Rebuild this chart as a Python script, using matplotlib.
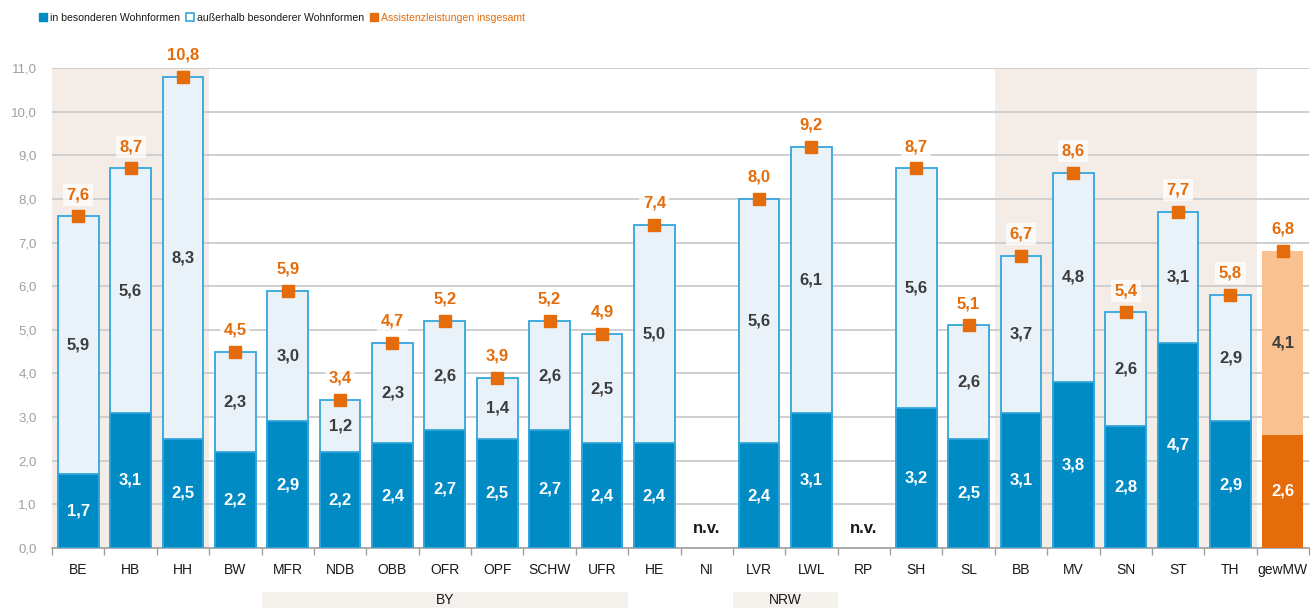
import numpy as np
import matplotlib.pyplot as plt
from matplotlib.patches import Rectangle
from matplotlib.lines import Line2D
from matplotlib.transforms import blended_transform_factory

plt.rcParams["font.family"] = ["Liberation Sans", "DejaVu Sans"]

# ---------------------------------------------------------
# data
# ---------------------------------------------------------
categories = ["BE", "HB", "HH", "BW", "MFR", "NDB", "OBB", "OFR", "OPF", "SCHW",
              "UFR", "HE", "NI", "LVR", "LWL", "RP", "SH", "SL", "BB", "MV",
              "SN", "ST", "TH", "gewMW"]
in_wohnformen = [1.7, 3.1, 2.5, 2.2, 2.9, 2.2, 2.4, 2.7, 2.5, 2.7,
                 2.4, 2.4, np.nan, 2.4, 3.1, np.nan, 3.2, 2.5, 3.1, 3.8,
                 2.8, 4.7, 2.9, 2.6]
ausserhalb = [5.9, 5.6, 8.3, 2.3, 3.0, 1.2, 2.3, 2.6, 1.4, 2.6,
              2.5, 5.0, np.nan, 5.6, 6.1, np.nan, 5.6, 2.6, 3.7, 4.8,
              2.6, 3.1, 2.9, 4.1]
insgesamt = [7.6, 8.7, 10.8, 4.5, 5.9, 3.4, 4.7, 5.2, 3.9, 5.2,
             4.9, 7.4, np.nan, 8.0, 9.2, np.nan, 8.7, 5.1, 6.7, 8.6,
             5.4, 7.7, 5.8, 6.8]
groups = [("BY", "MFR", "UFR"), ("NRW", "LVR", "LWL")]
shaded = [("BE", "HH"), ("BB", "TH")]

# ---------------------------------------------------------
# colours
# ---------------------------------------------------------
BLUE = "#008bc5"
LIGHT = "#e9f2f9"
EDGE = "#34a6dc"
ORANGE = "#e46c0a"
LIGHT_ORANGE = "#f9c190"
SHADE = "#f3ece7"
GRID = "#cfcfcf"
TEXT = "#1a1a1a"


def fmt(v):
    return f"{v:.1f}".replace(".", ",")


fig = plt.figure(figsize=(13.13, 6.08), dpi=100)
ax = fig.add_axes([52 / 1313, 60 / 608, 1257 / 1313, 480 / 608])

x = np.arange(len(categories))
idx = {c: i for i, c in enumerate(categories)}
ins = np.array(in_wohnformen)
out = np.array(ausserhalb)
tot = np.array(insgesamt)
mean_bar = categories.index("gewMW")
width = 0.78

# background shading of regions
for first, last in shaded:
    ax.add_patch(Rectangle((idx[first] - 0.5, 0), idx[last] - idx[first] + 1, 11,
                           facecolor=SHADE, edgecolor="none", zorder=0.2))

valid = ~np.isnan(tot)
states = valid & (x != mean_bar)

# light bar (whole total), dark bar (in besonderen Wohnformen) on top
ax.bar(x[states], tot[states], width, color=LIGHT, edgecolor=EDGE, linewidth=1.3, zorder=2)
ax.bar(x[states], ins[states], width, color=BLUE, edgecolor=EDGE, linewidth=1.3, zorder=3)
ax.bar(x[mean_bar], tot[mean_bar], width, color=LIGHT_ORANGE, edgecolor="none", zorder=2)
ax.bar(x[mean_bar], ins[mean_bar], width, color=ORANGE, edgecolor="none", zorder=3)

# total markers
ax.plot(x[valid], tot[valid], "s", color=ORANGE, markersize=8, zorder=5, clip_on=False)

for i in x[valid]:
    ax.text(i, ins[i] / 2, fmt(ins[i]), ha="center", va="center", color="white",
            fontsize=12, fontweight="bold", zorder=6)
    ax.text(i, (ins[i] + tot[i]) / 2, fmt(out[i]), ha="center", va="center",
            color="#3c3c3c", fontsize=12, fontweight="bold", zorder=6)
    ax.text(i, tot[i] + 0.5, fmt(tot[i]), ha="center", va="center", color=ORANGE,
            fontsize=12, fontweight="bold", zorder=6, clip_on=False,
            bbox=dict(facecolor="white", alpha=0.75, edgecolor="none", pad=2.5))

for i in x[~valid]:
    ax.text(i, 0.45, "n.v.", ha="center", va="center", color=TEXT,
            fontsize=12, fontweight="bold", zorder=6)

# axes styling
yticks = np.arange(0, 11.1, 1)
ax.set_xlim(-0.5, len(categories) - 0.5)
ax.set_ylim(0, 11)
ax.set_yticks(yticks)
ax.set_yticklabels([fmt(v) for v in yticks])
ax.yaxis.grid(True, color=GRID, linewidth=1.4)
ax.set_axisbelow(True)
ax.tick_params(axis="y", length=0, pad=11, labelsize=9.5, labelcolor="#a0a0a0")
ax.set_xticks(x)
ax.set_xticklabels(categories)
ax.set_xticks(np.arange(-0.5, len(categories), 1), minor=True)
ax.tick_params(axis="x", which="major", length=0, pad=11, labelsize=10, labelcolor=TEXT)
ax.tick_params(axis="x", which="minor", length=5, color="#a0a0a0", width=1)
for side in ["left", "right", "top"]:
    ax.spines[side].set_visible(False)
ax.spines["bottom"].set_color("#a0a0a0")
ax.spines["bottom"].set_linewidth(1.2)

# group labels below the axis
trans = blended_transform_factory(ax.transData, ax.transAxes)
for name, first, last in groups:
    ax.add_patch(Rectangle((idx[first] - 0.5, -0.125), idx[last] - idx[first] + 1, 0.033,
                           transform=trans, facecolor="#f5f1ed", edgecolor="none",
                           clip_on=False, zorder=1))
    ax.text((idx[first] + idx[last]) / 2, -0.108, name, transform=trans,
            ha="center", va="center", fontsize=10, color=TEXT)

# legend
handles = [
    Line2D([], [], marker="s", linestyle="none", markersize=6, color=BLUE),
    Line2D([], [], marker="s", linestyle="none", markersize=5.5,
           markerfacecolor="white", markeredgecolor=EDGE, markeredgewidth=1.2),
    Line2D([], [], marker="s", linestyle="none", markersize=6, color=ORANGE),
]
labels = ["in besonderen Wohnformen", "außerhalb besonderer Wohnformen",
          "Assistenzleistungen insgesamt"]
fig.legend(handles, labels, loc="center left", bbox_to_anchor=(39 / 1313, 1 - 18 / 608),
           ncol=3, frameon=False, fontsize=7.6, handlelength=0.8, handletextpad=0.25,
           columnspacing=0.55, borderpad=0, borderaxespad=0,
           labelcolor=[TEXT, TEXT, ORANGE])

fig.savefig("out.png", dpi=100)
